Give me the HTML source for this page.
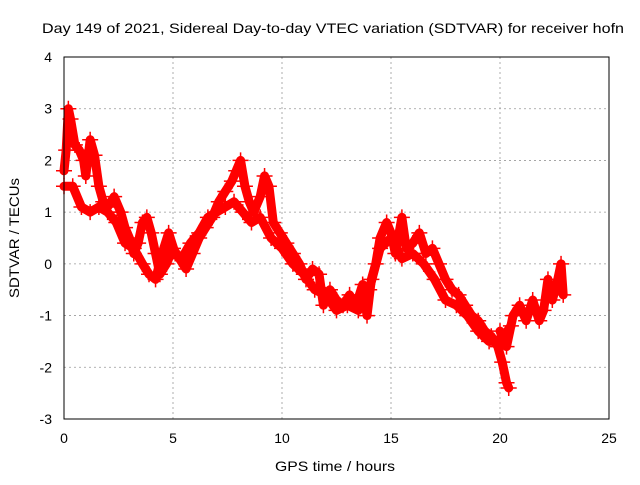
<!DOCTYPE html>
<html><head><meta charset="utf-8"><style>
body{margin:0;background:#fff}
svg text{font-family:"Liberation Sans",sans-serif;font-size:14px;fill:#000}
</style></head><body>
<svg id="chart" width="640" height="480">
<text x="42" y="33" textLength="582" lengthAdjust="spacingAndGlyphs">Day 149 of 2021, Sidereal Day-to-day VTEC variation (SDTVAR) for receiver hofn</text>
<text x="275" y="471" textLength="120" lengthAdjust="spacingAndGlyphs">GPS time / hours</text>
<text transform="translate(19,238) rotate(-90)" text-anchor="middle" textLength="120" lengthAdjust="spacingAndGlyphs">SDTVAR / TECUs</text>
<g id="grid"></g><g id="marks"></g>
<rect x="64" y="57" width="545" height="362" fill="none" stroke="#000" stroke-width="1"/>
</svg>
<script>
const xTicks=[0,5,10,15,20,25];
const yTicks=[-3,-2,-1,0,1,2,3,4];
const tA=[0,0.1,0.2,0.3,0.5,0.7,0.9,1.0,1.2,1.4,1.6,1.8,2.0,2.3,2.6,2.8,3.0,3.2,3.4,3.6,3.8,4.0,4.2,4.4,4.7,5.0,5.3,5.6,5.9,6.2,6.5,6.8,7.1,7.4,7.7,7.9,8.1,8.3,8.5,8.7,9.0,9.2,9.4,9.6,9.9,10.2,10.5,10.8,11.1,11.4,11.7,11.9,12.2,12.5,12.8,13.1,13.4,13.7,13.9,14.1,14.3,14.5,14.8,15.0,15.2,15.5,15.7,16.0,16.3,16.6,16.9,17.2,17.5,17.8,18.1,18.4,18.7,19.0,19.3,19.6,19.9,20.1,20.3,20.4];
const vA=[1.8,2.2,3.0,2.8,2.3,2.2,2.0,1.7,2.4,2.1,1.5,1.2,1.1,1.3,1.0,0.7,0.5,0.2,0.4,0.8,0.9,0.6,0.2,-0.2,0.0,0.3,0.1,-0.1,0.2,0.5,0.7,0.9,1.2,1.4,1.6,1.8,2.0,1.5,1.2,1.0,1.3,1.7,1.5,0.8,0.6,0.4,0.2,0.0,-0.3,-0.1,-0.2,-0.8,-0.5,-0.7,-0.8,-0.6,-0.8,-0.4,-1.0,-0.3,0.0,0.5,0.8,0.6,0.2,0.9,0.3,0.4,0.6,0.2,0.3,0.0,-0.3,-0.5,-0.6,-0.8,-1.0,-1.1,-1.3,-1.4,-1.6,-1.9,-2.3,-2.4];
const tB=[0,0.4,0.8,1.2,1.6,2.0,2.4,2.8,3.2,3.6,3.9,4.2,4.5,4.8,5.1,5.4,5.8,6.2,6.6,7.0,7.4,7.8,8.2,8.6,9.0,9.5,10.0,10.5,11.0,11.5,12.0,12.5,13.0,13.5,14.0,14.5,15.0,15.5,16.0,16.5,17.0,17.5,18.0,18.5,19.0,19.5,20.0,20.5];
const vB=[1.5,1.5,1.1,1.0,1.1,1.0,0.8,0.4,0.3,0.0,-0.2,-0.3,0.2,0.6,0.2,0.1,0.4,0.6,0.9,1.0,1.1,1.2,1.0,0.8,0.9,0.5,0.3,0.0,-0.2,-0.5,-0.6,-0.9,-0.8,-0.9,-0.5,0.3,0.5,0.1,0.2,0.0,-0.3,-0.7,-0.8,-1.0,-1.3,-1.5,-1.5,-1.2];
const tC=[20.0,20.3,20.6,20.9,21.2,21.5,21.8,22.0,22.2,22.4,22.6,22.8,22.9];
const vC=[-1.3,-1.6,-1.0,-0.8,-1.1,-0.7,-1.1,-0.9,-0.3,-0.7,-0.4,0.0,-0.6];
const NS='http://www.w3.org/2000/svg';
const X=t=>64+t*545/25, Y=v=>419-(v+3)*362/7;
const grid=document.getElementById('grid'), marks=document.getElementById('marks'), svg=document.getElementById('chart');
function mk(tag,a,p){const e=document.createElementNS(NS,tag);for(const k in a)e.setAttribute(k,a[k]);p.appendChild(e);return e;}
xTicks.forEach(t=>{
 const x=X(t);
 if(t>0&&t<25){const g=mk('line',{x1:x,x2:x,y1:57,y2:419,stroke:'#999','stroke-dasharray':'2,3','stroke-width':0.8},grid);
 
 }
 const tl=mk('text',{x:x,y:443,'text-anchor':'middle'},svg);tl.textContent=t;
 
 
});
yTicks.forEach(v=>{
 const y=Y(v);
 if(v>-3&&v<4){const g=mk('line',{x1:64,x2:609,y1:y,y2:y,stroke:'#999','stroke-dasharray':'2,3','stroke-width':0.8},grid);
 
 }
 const tl=mk('text',{x:52,y:y+5,'text-anchor':'end'},svg);tl.textContent=v;
 
 
});
[[tA,vA,'track-a'],[tB,vB,'track-b'],[tC,vC,'track-c']].forEach(([ts,vs,name])=>{
 const pts=ts.map((t,i)=>X(t)+','+Y(vs[i])).join(' ');
 const pl=mk('polyline',{points:pts,fill:'none',stroke:'#f00','stroke-width':9,'stroke-linejoin':'round','stroke-linecap':'round'},marks);
 
 
 ts.forEach((t,i)=>{
  const x=X(t),y=Y(vs[i]);
  const p=mk('path',{d:`M${x-8},${y}H${x+8}M${x},${y-8}V${y+8}`,stroke:'#f00','stroke-width':1.5},marks);
  
  
 });
});
</script>
</body></html>
